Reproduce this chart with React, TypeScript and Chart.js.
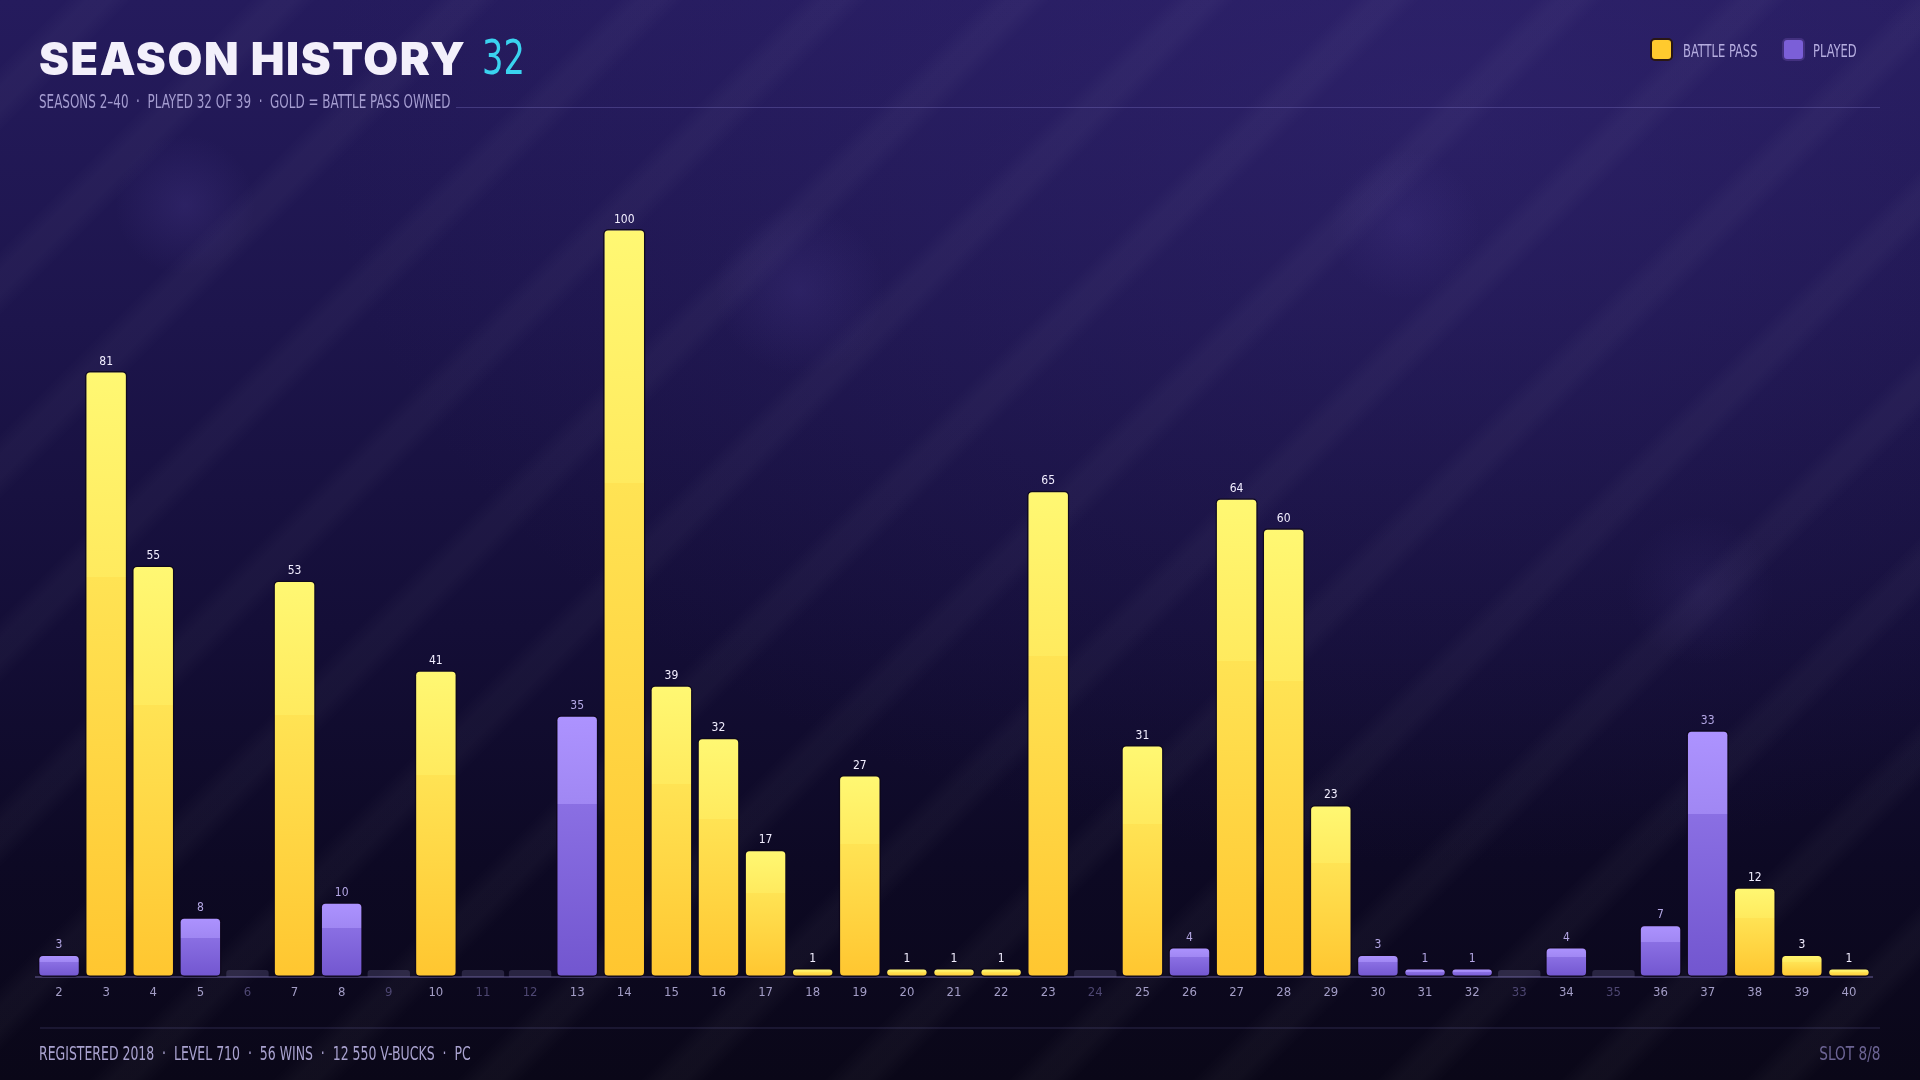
import React, { useEffect, useRef } from "react";
import { Chart, registerables } from "chart.js";

Chart.register(...registerables);

// ---------- data ----------
const SEASONS: string[] = [
  "2", "3", "4", "5", "6", "7", "8", "9", "10", "11", "12", "13", "14",
  "15", "16", "17", "18", "19", "20", "21", "22", "23", "24", "25", "26", "27",
  "28", "29", "30", "31", "32", "33", "34", "35", "36", "37", "38", "39", "40",
];

// tier reached in seasons where the battle pass was owned
const BATTLE_PASS_TIERS: (number | null)[] = [
  null, 81, 55, null, null, 53, null, null, 41, null, null, null, 100,
  39, 32, 17, 1, 27, 1, 1, 1, 65, null, 31, null, 64,
  60, 23, null, null, null, null, null, null, null, null, 12, 3, 1,
];

// tier reached in seasons played without the battle pass
const PLAYED_TIERS: (number | null)[] = [
  3, null, null, 8, null, null, 10, null, null, null, null, 35, null,
  null, null, null, null, null, null, null, null, null, null, null, 4, null,
  null, null, 3, 1, 1, null, 4, null, 7, 33, null, null, null,
];

// seasons not played (drawn as empty placeholders)
const MISSED: (number | null)[] = [
  null, null, null, null, 0, null, null, 0, null, 0, 0, null, null,
  null, null, null, null, null, null, null, null, null, 0, null, null, null,
  null, null, null, null, null, 0, null, 0, null, null, null, null, null,
];

const Y_MAX = 100;

// ---------- styles ----------
const COND = "'DejaVu Sans Condensed', 'DejaVu Sans', sans-serif";

const GOLD_STOPS: [number, string][] = [
  [0, "#fff873"],
  [0.34, "#ffea5e"],
  [0.34, "#ffe354"],
  [1, "#ffc630"],
];
const PURPLE_STOPS: [number, string][] = [
  [0, "#ad93ff"],
  [0.34, "#a087f3"],
  [0.34, "#8a6fe3"],
  [1, "#7256cf"],
];

function gradientFill(stops: [number, string][], fallback: string) {
  return (c: any) => {
    const chart = c.chart;
    const { ctx, chartArea, scales } = chart;
    if (!chartArea || c.type !== "data" || c.raw == null || !scales.y) return fallback;
    const top = scales.y.getPixelForValue(c.raw);
    const bottom = scales.y.getPixelForValue(0);
    if (!isFinite(top) || !isFinite(bottom) || Math.abs(bottom - top) < 0.5) return fallback;
    const g = ctx.createLinearGradient(0, top, 0, bottom);
    stops.forEach(([o, col]) => g.addColorStop(o, col));
    return g;
  };
}

const valueLabels = {
  id: "valueLabels",
  afterDatasetsDraw(chart: any) {
    const { ctx } = chart;
    ctx.save();
    ctx.font = `12px ${COND}`;
    ctx.textAlign = "center";
    ctx.textBaseline = "alphabetic";
    [0, 1].forEach((di) => {
      const meta = chart.getDatasetMeta(di);
      const data = chart.data.datasets[di].data as (number | null)[];
      meta.data.forEach((bar: any, i: number) => {
        const v = data[i];
        if (v == null) return;
        ctx.fillStyle = di === 0 ? "#f2eeff" : "#b4a7e4";
        ctx.fillText(String(v), bar.x, bar.y - 6.5);
      });
    });
    ctx.restore();
  },
};

function ChartCanvas() {
  const ref = useRef<HTMLCanvasElement | null>(null);
  useEffect(() => {
    if (!ref.current) return;
    const barCommon = {
      grouped: false,
      barPercentage: 0.9,
      categoryPercentage: 1,
    };
    const chart = new Chart(ref.current, {
      type: "bar",
      data: {
        labels: SEASONS,
        datasets: [
          {
            label: "Battle pass",
            data: BATTLE_PASS_TIERS,
            backgroundColor: gradientFill(GOLD_STOPS, "#ffd23f"),
            borderColor: "rgba(14,8,28,0.9)",
            borderWidth: 1.5,
            borderRadius: 5,
            borderSkipped: false,
            minBarLength: 9,
            ...barCommon,
          },
          {
            label: "Played",
            data: PLAYED_TIERS,
            backgroundColor: gradientFill(PURPLE_STOPS, "#8a6ee2"),
            borderColor: "rgba(14,8,28,0.9)",
            borderWidth: 1.5,
            borderRadius: 5,
            borderSkipped: false,
            minBarLength: 9,
            ...barCommon,
          },
          {
            label: "Missed",
            data: MISSED,
            backgroundColor: "rgba(120,112,160,0.28)",
            borderWidth: 0,
            borderRadius: { topLeft: 3, topRight: 3, bottomLeft: 0, bottomRight: 0 },
            borderSkipped: false,
            minBarLength: 7,
            ...barCommon,
          },
        ] as any,
      },
      options: {
        animation: false,
        responsive: false,
        devicePixelRatio: 1,
        layout: { padding: { left: 35.5, right: 47.5, top: 229, bottom: 63 } },
        plugins: {
          legend: { display: false },
          tooltip: { enabled: false },
          title: { display: false },
        },
        scales: {
          x: {
            type: "category",
            offset: true,
            grid: { display: false, drawTicks: false },
            border: { display: true, color: "rgba(150,138,215,0.32)", width: 2 },
            ticks: {
              autoSkip: false,
              maxRotation: 0,
              padding: 8,
              font: { family: COND, size: 13 },
              color: (c: any) => (MISSED[c.index] != null ? "#4e4772" : "#a39dc6"),
            },
            afterFit: (scale: any) => {
              scale.height = 40;
            },
          },
          y: {
            display: false,
            min: 0,
            max: Y_MAX,
          },
        },
      } as any,
      plugins: [valueLabels],
    });
    return () => chart.destroy();
  }, []);
  return (
    <canvas
      ref={ref}
      width={1920}
      height={1080}
      style={{ position: "absolute", left: 0, top: 0, width: 1920, height: 1080 }}
    />
  );
}

const condText = (scale: number, origin = "left"): React.CSSProperties => ({
  display: "inline-block",
  transform: `scaleX(${scale})`,
  transformOrigin: origin,
  whiteSpace: "nowrap",
});

export default function App() {
  useEffect(() => {
    document.body.style.margin = "0";
  }, []);
  const bg = [
    "repeating-linear-gradient(135deg, rgba(255,255,255,0) 0px, rgba(255,255,255,0) 46px, rgba(255,255,255,0.03) 62px, rgba(255,255,255,0.03) 78px, rgba(255,255,255,0) 94px, rgba(255,255,255,0) 130px)",
    "radial-gradient(circle at 185px 205px, rgba(110,90,190,0.16), rgba(110,90,190,0) 70px)",
    "radial-gradient(circle at 800px 290px, rgba(110,90,190,0.14), rgba(110,90,190,0) 85px)",
    "radial-gradient(circle at 1405px 225px, rgba(110,90,190,0.12), rgba(110,90,190,0) 75px)",
    "radial-gradient(circle at 1700px 590px, rgba(110,90,190,0.10), rgba(110,90,190,0) 75px)",
    "radial-gradient(ellipse at 75% 10%, rgba(60,45,130,0.35), rgba(60,45,130,0) 55%)",
    "linear-gradient(180deg, #251b5d 0%, #1d154c 30%, #140e37 58%, #0d0924 80%, #0a0718 100%)",
  ].join(",");
  return (
    <div
      style={{
        position: "fixed",
        left: 0,
        top: 0,
        width: 1920,
        height: 1080,
        overflow: "hidden",
        background: bg,
        fontFamily: COND,
      }}
    >
      <ChartCanvas />
      {/* title */}
      <div
        style={{
          position: "absolute",
          left: 39,
          top: 36,
          fontFamily: "Inter, 'DejaVu Sans', sans-serif",
          fontWeight: 900,
          fontSize: 45,
          lineHeight: "45px",
          letterSpacing: 1.6,
          color: "#f3f0fb",
          whiteSpace: "nowrap",
        }}
      >
        SEASON HISTORY
      </div>
      <div
        style={{
          position: "absolute",
          left: 482,
          top: 33,
          fontFamily: COND,
          fontSize: 48,
          lineHeight: "48px",
          color: "#3ad3ef",
        }}
      >
        <span style={condText(0.78)}>32</span>
      </div>
      {/* subtitle */}
      <div
        style={{
          position: "absolute",
          left: 39,
          top: 92,
          fontSize: 19,
          lineHeight: "19px",
          color: "#a49cd0",
        }}
      >
        <span style={condText(0.7)}>SEASONS 2–40 &nbsp;·&nbsp; PLAYED 32 OF 39 &nbsp;·&nbsp; GOLD = BATTLE PASS OWNED</span>
      </div>
      <div
        style={{
          position: "absolute",
          left: 456,
          top: 107,
          width: 1424,
          height: 1,
          background: "rgba(140,128,212,0.3)",
        }}
      />
      {/* legend */}
      <div
        style={{
          position: "absolute",
          left: 1650,
          top: 38,
          width: 19,
          height: 19,
          borderRadius: 5,
          background: "#ffca2e",
          border: "2px solid #2a1713",
        }}
      />
      <div
        style={{
          position: "absolute",
          left: 1683,
          top: 42,
          fontSize: 18,
          lineHeight: "18px",
          color: "#b6aee0",
        }}
      >
        <span style={condText(0.71)}>BATTLE PASS</span>
      </div>
      <div
        style={{
          position: "absolute",
          left: 1782,
          top: 38,
          width: 19,
          height: 19,
          borderRadius: 5,
          background: "#7b5fd8",
          border: "2px solid rgba(30,18,70,0.6)",
        }}
      />
      <div
        style={{
          position: "absolute",
          left: 1813,
          top: 42,
          fontSize: 18,
          lineHeight: "18px",
          color: "#b6aee0",
        }}
      >
        <span style={condText(0.71)}>PLAYED</span>
      </div>
      {/* footer */}
      <div
        style={{
          position: "absolute",
          left: 40,
          top: 1027,
          width: 1840,
          height: 2,
          background: "rgba(140,128,212,0.13)",
        }}
      />
      <div
        style={{
          position: "absolute",
          left: 39,
          top: 1044,
          fontSize: 19,
          lineHeight: "19px",
          color: "#a9a2cf",
        }}
      >
        <span style={condText(0.73)}>REGISTERED 2018 &nbsp;·&nbsp; LEVEL 710 &nbsp;·&nbsp; 56 WINS &nbsp;·&nbsp; 12 550 V-BUCKS &nbsp;·&nbsp; PC</span>
      </div>
      <div
        style={{
          position: "absolute",
          right: 39,
          top: 1044,
          fontSize: 19,
          lineHeight: "19px",
          color: "#6c6494",
        }}
      >
        <span style={condText(0.8, "right")}>SLOT 8/8</span>
      </div>
    </div>
  );
}
